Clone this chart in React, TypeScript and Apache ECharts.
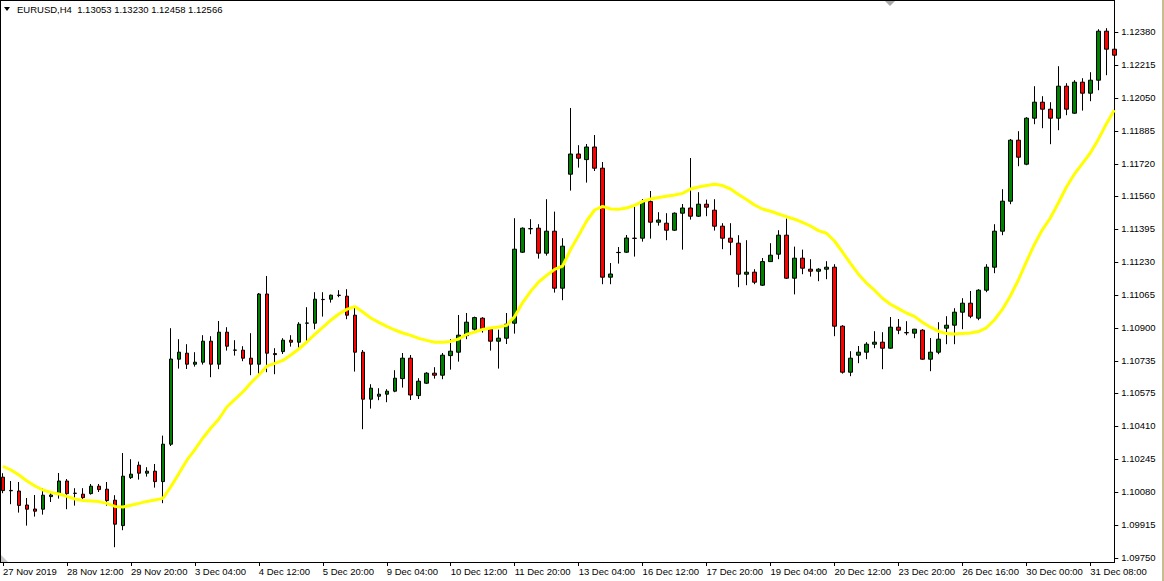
import React, { useEffect, useRef } from "react";
import * as echarts from "echarts";

const titleText = "EURUSD,H4  1.13053 1.13230 1.12458 1.12566";

const xTickLabels = [
  "27 Nov 2019", "28 Nov 12:00", "29 Nov 20:00", "3 Dec 04:00", "4 Dec 12:00", "5 Dec 20:00",
  "9 Dec 04:00", "10 Dec 12:00", "11 Dec 20:00", "13 Dec 04:00", "16 Dec 12:00", "17 Dec 20:00",
  "19 Dec 04:00", "20 Dec 12:00", "23 Dec 20:00", "26 Dec 16:00", "30 Dec 00:00", "31 Dec 08:00",
];

const yTickValues = [
  1.0975, 1.09915, 1.1008, 1.10245, 1.1041, 1.10575, 1.10735, 1.109, 1.11065,
  1.1123, 1.11395, 1.1156, 1.1172, 1.11885, 1.1205, 1.12215, 1.1238,
];

const opens = [
  1.10153, 1.10085, 1.10084, 1.10014, 1.09994, 1.09993, 1.10056, 1.10073, 1.10134, 1.10073,
  1.10068, 1.10071, 1.10108, 1.10093, 1.10038, 1.09911, 1.10151, 1.10213, 1.10173, 1.10183,
  1.10131, 1.10318, 1.10743, 1.10773, 1.10718, 1.10728, 1.10833, 1.10718, 1.10878, 1.10788,
  1.10788, 1.10748, 1.10718, 1.11069, 1.10771, 1.10781, 1.10838, 1.10828, 1.10923, 1.10923,
  1.11041, 1.11043, 1.11063, 1.11058, 1.10963, 1.10778, 1.10543, 1.10558, 1.10568, 1.10583,
  1.10646, 1.10748, 1.10561, 1.10623, 1.10673, 1.10663, 1.10761, 1.10778, 1.10861, 1.10893,
  1.10948, 1.10893, 1.10833, 1.10848, 1.10923, 1.11278, 1.11396, 1.11398, 1.11273, 1.11383,
  1.11098, 1.11668, 1.11769, 1.11741, 1.11804, 1.11698, 1.11153, 1.11276, 1.11278, 1.11348,
  1.11348, 1.11531, 1.11428, 1.11423, 1.11388, 1.11473, 1.11499, 1.11458, 1.11518, 1.11488,
  1.11408, 1.11348, 1.11323, 1.11168, 1.11178, 1.11113, 1.11231, 1.11268, 1.11363, 1.11148,
  1.11248, 1.11193, 1.11183, 1.11193, 1.11203, 1.10908, 1.10678, 1.10763, 1.10778, 1.10818,
  1.10828, 1.10798, 1.10903, 1.10876, 1.10873, 1.10888, 1.10743, 1.10778, 1.10898, 1.10913,
  1.10978, 1.11023, 1.10948, 1.11088, 1.11203, 1.11383, 1.11533, 1.11838, 1.11718, 1.11948,
  1.12028, 1.11993, 1.11948, 1.12108, 1.11973, 1.12128, 1.12073, 1.12138, 1.12383, 1.12293,
];

const closes = [
  1.10086, 1.10087, 1.10012, 1.09993, 1.09983, 1.10063, 1.10064, 1.10134, 1.10071, 1.10072,
  1.10051, 1.10108, 1.10091, 1.10036, 1.09918, 1.10158, 1.10168, 1.10173, 1.10183, 1.10131,
  1.10318, 1.10744, 1.10778, 1.10718, 1.10728, 1.10833, 1.10718, 1.10878, 1.10808, 1.10789,
  1.10748, 1.10718, 1.11069, 1.10773, 1.10766, 1.10838, 1.10828, 1.10918, 1.10924, 1.11043,
  1.11042, 1.11063, 1.11062, 1.10963, 1.10778, 1.10543, 1.10598, 1.10568, 1.10583, 1.10648,
  1.10748, 1.10564, 1.10633, 1.10673, 1.10663, 1.10763, 1.10783, 1.10863, 1.10928, 1.10951,
  1.10896, 1.10833, 1.10848, 1.10918, 1.11293, 1.11398, 1.11395, 1.11273, 1.11383, 1.11098,
  1.11308, 1.11769, 1.11748, 1.11804, 1.11698, 1.11153, 1.11169, 1.11277, 1.11349, 1.11347,
  1.11531, 1.11428, 1.11439, 1.11388, 1.11473, 1.11499, 1.11458, 1.11518, 1.11503, 1.11408,
  1.11348, 1.11328, 1.11168, 1.11178, 1.11128, 1.11231, 1.11263, 1.11363, 1.11148, 1.11248,
  1.11198, 1.11183, 1.11193, 1.11203, 1.10908, 1.10678, 1.10748, 1.10778, 1.10818, 1.10828,
  1.10798, 1.10903, 1.10888, 1.10875, 1.10893, 1.10743, 1.10778, 1.10843, 1.10913, 1.10978,
  1.11023, 1.10958, 1.11088, 1.11203, 1.11383, 1.11533, 1.11838, 1.11753, 1.11948, 1.12028,
  1.11993, 1.11948, 1.12108, 1.11993, 1.12128, 1.12073, 1.12138, 1.12383, 1.12293, 1.12263,
];

const lows = [
  1.10073, 1.10018, 1.09976, 1.09911, 1.09956, 1.09966, 1.10029, 1.10046, 1.09993, 1.10011,
  1.10039, 1.10066, 1.10079, 1.10011, 1.09803, 1.09888, 1.10144, 1.10141, 1.10156, 1.10101,
  1.10023, 1.10309, 1.10696, 1.10694, 1.10706, 1.10716, 1.10653, 1.10693, 1.10786, 1.10761,
  1.10733, 1.10663, 1.10669, 1.10678, 1.10668, 1.10769, 1.10806, 1.10788, 1.10828, 1.10893,
  1.10956, 1.11026, 1.11053, 1.10943, 1.10681, 1.10393, 1.10496, 1.10538, 1.10528, 1.10578,
  1.10601, 1.10539, 1.10544, 1.10619, 1.10646, 1.10643, 1.10691, 1.10731, 1.10843, 1.10886,
  1.10876, 1.10786, 1.10696, 1.10819, 1.10871, 1.11274, 1.11368, 1.11246, 1.11261, 1.11076,
  1.11038, 1.11586, 1.11701, 1.11626, 1.11684, 1.11118, 1.11118, 1.11221, 1.11274, 1.11256,
  1.11331, 1.11346, 1.11411, 1.11338, 1.11384, 1.11291, 1.11441, 1.11454, 1.11458, 1.11386,
  1.11293, 1.11263, 1.11103, 1.11113, 1.11118, 1.11109, 1.11229, 1.11243, 1.11144, 1.11067,
  1.11168, 1.11156, 1.11133, 1.11143, 1.10858, 1.10671, 1.10658, 1.10723, 1.10743, 1.10798,
  1.10693, 1.10795, 1.10868, 1.10863, 1.10848, 1.1074, 1.10683, 1.10768, 1.10818, 1.10818,
  1.10893, 1.10948, 1.10938, 1.11078, 1.11173, 1.11363, 1.11518, 1.11708, 1.11713, 1.11918,
  1.11898, 1.11818, 1.11888, 1.11963, 1.1197, 1.11986, 1.12033, 1.12088, 1.12163, 1.12249,
];

const highs = [
  1.10173, 1.10134, 1.10129, 1.10049, 1.10064, 1.10098, 1.10076, 1.10174, 1.10144, 1.10098,
  1.10098, 1.10119, 1.10119, 1.10129, 1.10063, 1.10274, 1.10243, 1.10231, 1.10203, 1.10219,
  1.10361, 1.10898, 1.10843, 1.10818, 1.10778, 1.10863, 1.10858, 1.10934, 1.10903, 1.10838,
  1.10808, 1.10873, 1.11074, 1.11159, 1.10798, 1.10848, 1.10863, 1.10928, 1.11003, 1.11078,
  1.11078, 1.11066, 1.11088, 1.11093, 1.11006, 1.10789, 1.10618, 1.10598, 1.10593, 1.10688,
  1.10774, 1.10764, 1.10648, 1.10678, 1.10703, 1.10774, 1.10843, 1.10964, 1.10974, 1.10956,
  1.10953, 1.10893, 1.10891, 1.10974, 1.11448, 1.11402, 1.11443, 1.11418, 1.11543, 1.11481,
  1.11348, 1.11999, 1.11813, 1.11819, 1.11864, 1.11729, 1.11224, 1.11304, 1.11364, 1.11506,
  1.11544, 1.11584, 1.11478, 1.11473, 1.11477, 1.11519, 1.11749, 1.11578, 1.11541, 1.11543,
  1.11423, 1.11423, 1.11363, 1.11338, 1.11193, 1.11249, 1.11323, 1.11388, 1.11446, 1.11306,
  1.11291, 1.11243, 1.11198, 1.11233, 1.11218, 1.10913, 1.10783, 1.10809, 1.10828, 1.10883,
  1.10878, 1.10954, 1.10944, 1.10933, 1.10895, 1.10893, 1.10849, 1.10928, 1.10958, 1.10998,
  1.11048, 1.11084, 1.11093, 1.11218, 1.11418, 1.11593, 1.11844, 1.11883, 1.11953, 1.12108,
  1.12058, 1.12028, 1.12208, 1.12123, 1.12138, 1.12148, 1.12178, 1.12393, 1.12398, 1.12304,
];

const maValues = [
  1.10207, 1.10189, 1.10164, 1.10134, 1.10109, 1.10089, 1.10077, 1.10069, 1.10057, 1.10044,
  1.10037, 1.10034, 1.10031, 1.10022, 1.10007, 1.10004, 1.10013, 1.10022, 1.10032, 1.10039,
  1.10047, 1.10106, 1.10171, 1.10238, 1.10291, 1.10349, 1.10399, 1.10444, 1.10504, 1.10542,
  1.10579, 1.10624, 1.10664, 1.10708, 1.10722, 1.10737, 1.10764, 1.10794, 1.10829, 1.10867,
  1.10902, 1.10938, 1.10969, 1.10992, 1.11006, 1.10979, 1.10949, 1.10927, 1.10907, 1.10889,
  1.10874, 1.10862, 1.10847, 1.10837, 1.10828, 1.10828, 1.10832, 1.10844, 1.10867, 1.10879,
  1.10892, 1.10899, 1.10904, 1.10912, 1.10956, 1.11026, 1.11082, 1.11129, 1.11162, 1.11192,
  1.11209, 1.11292, 1.11362, 1.11434, 1.11489, 1.11507, 1.11494, 1.11493, 1.11499, 1.11512,
  1.11532, 1.11544, 1.11551, 1.11558, 1.11564, 1.11572, 1.11594, 1.11604, 1.11611, 1.11618,
  1.11611, 1.11594, 1.11567, 1.11542, 1.11514, 1.11494, 1.11483, 1.11469, 1.11456, 1.11443,
  1.11427, 1.11409, 1.11386, 1.11373, 1.11334, 1.11279, 1.11222, 1.11168, 1.11124, 1.11088,
  1.11048, 1.11018, 1.10996, 1.10974, 1.10957, 1.10928, 1.10903, 1.10883, 1.10871, 1.10869,
  1.10872, 1.10874, 1.10881, 1.109, 1.10939, 1.10992, 1.11059, 1.11139, 1.1123, 1.11316,
  1.1139, 1.11449, 1.11524, 1.11603, 1.11668, 1.11721, 1.11774, 1.11842, 1.11919, 1.11989,
];

const FONT = "'Liberation Sans', Arial, sans-serif";

export default function App() {
  const ref = useRef<HTMLDivElement>(null);

  useEffect(() => {
    if (!ref.current) return;
    const chart = echarts.init(ref.current, null, { renderer: "svg" });
    const categories = opens.map((_, i) => String(i));
    const candles = opens.map((o, i) => [o, closes[i], lows[i], highs[i]]);

    chart.setOption({
      animation: false,
      backgroundColor: "#ffffff",
      textStyle: { fontFamily: FONT },
      grid: { left: 2.3, top: 1, width: 1112, height: 561, containLabel: false },
      xAxis: {
        type: "category",
        data: categories,
        boundaryGap: false,
        axisLine: { show: true, lineStyle: { color: "#000000", width: 1 } },
        axisTick: { show: true, interval: 7, length: 4, lineStyle: { color: "#000000" } },
        axisLabel: {
          interval: 7,
          align: "left",
          color: "#000000",
          fontSize: 9.5,
          fontFamily: FONT,
          margin: 4,
          hideOverlap: false,
          formatter: (_v: string, i: number) => (i % 8 === 0 ? xTickLabels[i / 8] ?? "" : ""),
        },
        splitLine: { show: false },
      },
      yAxis: {
        type: "value",
        position: "right",
        min: 1.09729,
        max: 1.12534,
        axisLine: { show: true, lineStyle: { color: "#000000", width: 1 } },
        axisTick: { show: true, length: 4, customValues: yTickValues, lineStyle: { color: "#000000" } },
        axisLabel: {
          customValues: yTickValues,
          color: "#000000",
          fontSize: 9.5,
          fontFamily: FONT,
          margin: 7,
          formatter: (v: number) => v.toFixed(5),
        },
        splitLine: { show: false },
      },
      series: [
        {
          type: "candlestick",
          data: candles,
          barWidth: 4,
          itemStyle: {
            color: "#008000",
            color0: "#ff0000",
            borderColor: "#000000",
            borderColor0: "#000000",
            borderWidth: 1,
          },
          z: 2,
        },
        {
          type: "line",
          data: maValues,
          symbol: "none",
          showSymbol: false,
          lineStyle: { color: "#ffff00", width: 3 },
          z: 3,
        },
      ],
      graphic: [
        { type: "line", shape: { x1: 0, y1: 0.5, x2: 1115, y2: 0.5 }, style: { stroke: "#000000", lineWidth: 1 } },
        { type: "line", shape: { x1: 0.5, y1: 0, x2: 0.5, y2: 562 }, style: { stroke: "#000000", lineWidth: 1 } },
        { type: "line", shape: { x1: 0, y1: 562.5, x2: 1115, y2: 562.5 }, style: { stroke: "#000000", lineWidth: 1 } },
        { type: "rect", shape: { x: 1162, y: 0, width: 2, height: 581 }, style: { fill: "#c8bd8e" } },
        { type: "polygon", shape: { points: [[885, 1], [895, 1], [890, 6]] }, style: { fill: "#a8a8a8" } },
        { type: "polygon", shape: { points: [[1, 555], [1, 562], [8, 562]] }, style: { fill: "#c8c8c8" } },
        { type: "polygon", shape: { points: [[4, 7], [10, 7], [7, 11]] }, style: { fill: "#000000" } },
        {
          type: "text",
          x: 17,
          y: 9.5,
          style: {
            text: titleText,
            fill: "#000000",
            font: `9.5px ${FONT}`,
            textVerticalAlign: "middle",
          },
        },
      ],
    });

    return () => chart.dispose();
  }, []);

  return (
    <div
      ref={ref}
      style={{ position: "absolute", left: 0, top: 0, width: 1164, height: 581, background: "#ffffff" }}
    />
  );
}
